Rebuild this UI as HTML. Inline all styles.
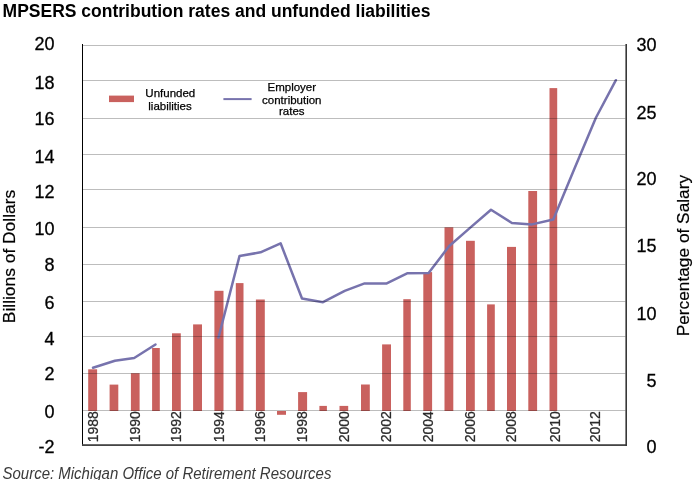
<!DOCTYPE html><html><head><meta charset="utf-8"><style>html,body{margin:0;padding:0;background:#fff;width:698px;height:480px;overflow:hidden}svg{display:block;will-change:transform}text{font-family:"Liberation Sans",sans-serif}</style></head><body>
<svg width="698" height="480" viewBox="0 0 698 480">
<text x="2.6" y="16.8" font-size="17.5" font-weight="bold" fill="#000">MPSERS contribution rates and unfunded liabilities</text>
<rect x="88.2" y="369.3" width="8.90" height="41.70" fill="#c9615e"/>
<rect x="109.6" y="384.6" width="8.70" height="26.40" fill="#c9615e"/>
<rect x="130.9" y="373.2" width="8.70" height="37.80" fill="#c9615e"/>
<rect x="152.1" y="348.0" width="7.70" height="63.00" fill="#c9615e"/>
<rect x="172.0" y="333.3" width="8.80" height="77.70" fill="#c9615e"/>
<rect x="193.1" y="324.4" width="8.90" height="86.60" fill="#c9615e"/>
<rect x="214.4" y="290.8" width="9.10" height="120.20" fill="#c9615e"/>
<rect x="235.8" y="283.1" width="7.70" height="127.90" fill="#c9615e"/>
<rect x="255.9" y="299.5" width="8.90" height="111.50" fill="#c9615e"/>
<rect x="277.0" y="411.0" width="9.00" height="3.8" fill="#c9615e"/>
<rect x="298.1" y="392.1" width="9.00" height="18.90" fill="#c9615e"/>
<rect x="319.4" y="405.9" width="7.50" height="5.10" fill="#c9615e"/>
<rect x="339.5" y="405.9" width="8.70" height="5.10" fill="#c9615e"/>
<rect x="361.0" y="384.5" width="8.80" height="26.50" fill="#c9615e"/>
<rect x="382.1" y="344.4" width="8.90" height="66.60" fill="#c9615e"/>
<rect x="403.3" y="299.2" width="7.50" height="111.80" fill="#c9615e"/>
<rect x="423.3" y="272.1" width="8.80" height="138.90" fill="#c9615e"/>
<rect x="444.5" y="227.3" width="8.80" height="183.70" fill="#c9615e"/>
<rect x="466.0" y="240.8" width="8.80" height="170.20" fill="#c9615e"/>
<rect x="487.1" y="304.4" width="7.70" height="106.60" fill="#c9615e"/>
<rect x="507.0" y="246.9" width="9.00" height="164.10" fill="#c9615e"/>
<rect x="528.3" y="191.0" width="8.80" height="220.00" fill="#c9615e"/>
<rect x="549.5" y="88.1" width="7.70" height="322.90" fill="#c9615e"/>
<rect x="82" y="44" width="1" height="402" fill="#000"/>
<rect x="82" y="444.2" width="545" height="1.8" fill="#454545"/>
<rect x="625.4" y="44" width="1.6" height="402" fill="#383838"/>
<polyline points="93,367.7 114.9,360.8 134.2,358 155.5,344.5" fill="none" stroke="#7773ad" stroke-width="2.5" stroke-linejoin="round" stroke-linecap="round"/>
<polyline points="218.5,337.5 239.5,256.1 260.5,252.3 280.6,243.3 302,298.5 323,302.2 344.7,290.8 364.6,283.4 386.25,283.6 407.1,273.3 428.6,273 449,246.3 470,227.9 491,209.7 511.9,223 532,224.4 553.3,219.5 574.6,168.2 595.9,117.75 615.9,80.2" fill="none" stroke="#7773ad" stroke-width="2.5" stroke-linejoin="round" stroke-linecap="round"/>
<rect x="83" y="45" width="542.4" height="1" fill="#bdbdbd" style="mix-blend-mode:multiply"/>
<rect x="83" y="80" width="542.4" height="1" fill="#bdbdbd" style="mix-blend-mode:multiply"/>
<rect x="83" y="118" width="542.4" height="1" fill="#bdbdbd" style="mix-blend-mode:multiply"/>
<rect x="83" y="154" width="542.4" height="1" fill="#bdbdbd" style="mix-blend-mode:multiply"/>
<rect x="83" y="189" width="542.4" height="1" fill="#bdbdbd" style="mix-blend-mode:multiply"/>
<rect x="83" y="227" width="542.4" height="1" fill="#bdbdbd" style="mix-blend-mode:multiply"/>
<rect x="83" y="264" width="542.4" height="1" fill="#bdbdbd" style="mix-blend-mode:multiply"/>
<rect x="83" y="301" width="542.4" height="1" fill="#bdbdbd" style="mix-blend-mode:multiply"/>
<rect x="83" y="336" width="542.4" height="1" fill="#bdbdbd" style="mix-blend-mode:multiply"/>
<rect x="83" y="373" width="542.4" height="1" fill="#bdbdbd" style="mix-blend-mode:multiply"/>
<rect x="83" y="410" width="542.4" height="1" fill="#bdbdbd" style="mix-blend-mode:multiply"/>
<text x="54.6" y="49.8" font-size="18" text-anchor="end" fill="#000" stroke="#000" stroke-width="0.3">20</text>
<text x="54.6" y="89" font-size="18" text-anchor="end" fill="#000" stroke="#000" stroke-width="0.3">18</text>
<text x="54.6" y="125" font-size="18" text-anchor="end" fill="#000" stroke="#000" stroke-width="0.3">16</text>
<text x="54.6" y="163.1" font-size="18" text-anchor="end" fill="#000" stroke="#000" stroke-width="0.3">14</text>
<text x="54.6" y="198.1" font-size="18" text-anchor="end" fill="#000" stroke="#000" stroke-width="0.3">12</text>
<text x="54.6" y="235.25" font-size="18" text-anchor="end" fill="#000" stroke="#000" stroke-width="0.3">10</text>
<text x="54.6" y="270.9" font-size="18" text-anchor="end" fill="#000" stroke="#000" stroke-width="0.3">8</text>
<text x="54.6" y="308.75" font-size="18" text-anchor="end" fill="#000" stroke="#000" stroke-width="0.3">6</text>
<text x="54.6" y="345" font-size="18" text-anchor="end" fill="#000" stroke="#000" stroke-width="0.3">4</text>
<text x="54.6" y="380" font-size="18" text-anchor="end" fill="#000" stroke="#000" stroke-width="0.3">2</text>
<text x="54.6" y="417.6" font-size="18" text-anchor="end" fill="#000" stroke="#000" stroke-width="0.3">0</text>
<text x="54.6" y="453" font-size="18" text-anchor="end" fill="#000" stroke="#000" stroke-width="0.3">-2</text>
<text x="656.5" y="50.6" font-size="18" text-anchor="end" fill="#000" stroke="#000" stroke-width="0.3">30</text>
<text x="656.5" y="119" font-size="18" text-anchor="end" fill="#000" stroke="#000" stroke-width="0.3">25</text>
<text x="656.5" y="185" font-size="18" text-anchor="end" fill="#000" stroke="#000" stroke-width="0.3">20</text>
<text x="656.5" y="252.1" font-size="18" text-anchor="end" fill="#000" stroke="#000" stroke-width="0.3">15</text>
<text x="656.5" y="320" font-size="18" text-anchor="end" fill="#000" stroke="#000" stroke-width="0.3">10</text>
<text x="656.5" y="387.25" font-size="18" text-anchor="end" fill="#000" stroke="#000" stroke-width="0.3">5</text>
<text x="656.5" y="453.1" font-size="18" text-anchor="end" fill="#000" stroke="#000" stroke-width="0.3">0</text>
<text transform="translate(98.2,411.1) rotate(-90)" x="0" y="0" font-size="14" text-anchor="end" fill="#2a2a2a" stroke="#2a2a2a" stroke-width="0.25">1988</text>
<text transform="translate(140.10000000000002,411.1) rotate(-90)" x="0" y="0" font-size="14" text-anchor="end" fill="#2a2a2a" stroke="#2a2a2a" stroke-width="0.25">1990</text>
<text transform="translate(181.20000000000002,411.1) rotate(-90)" x="0" y="0" font-size="14" text-anchor="end" fill="#2a2a2a" stroke="#2a2a2a" stroke-width="0.25">1992</text>
<text transform="translate(223.8,411.1) rotate(-90)" x="0" y="0" font-size="14" text-anchor="end" fill="#2a2a2a" stroke="#2a2a2a" stroke-width="0.25">1994</text>
<text transform="translate(265.1,411.1) rotate(-90)" x="0" y="0" font-size="14" text-anchor="end" fill="#2a2a2a" stroke="#2a2a2a" stroke-width="0.25">1996</text>
<text transform="translate(307.40000000000003,411.1) rotate(-90)" x="0" y="0" font-size="14" text-anchor="end" fill="#2a2a2a" stroke="#2a2a2a" stroke-width="0.25">1998</text>
<text transform="translate(348.7,411.1) rotate(-90)" x="0" y="0" font-size="14" text-anchor="end" fill="#2a2a2a" stroke="#2a2a2a" stroke-width="0.25">2000</text>
<text transform="translate(391.3,411.1) rotate(-90)" x="0" y="0" font-size="14" text-anchor="end" fill="#2a2a2a" stroke="#2a2a2a" stroke-width="0.25">2002</text>
<text transform="translate(432.5,411.1) rotate(-90)" x="0" y="0" font-size="14" text-anchor="end" fill="#2a2a2a" stroke="#2a2a2a" stroke-width="0.25">2004</text>
<text transform="translate(475.1,411.1) rotate(-90)" x="0" y="0" font-size="14" text-anchor="end" fill="#2a2a2a" stroke="#2a2a2a" stroke-width="0.25">2006</text>
<text transform="translate(516.3,411.1) rotate(-90)" x="0" y="0" font-size="14" text-anchor="end" fill="#2a2a2a" stroke="#2a2a2a" stroke-width="0.25">2008</text>
<text transform="translate(559.5999999999999,411.1) rotate(-90)" x="0" y="0" font-size="14" text-anchor="end" fill="#2a2a2a" stroke="#2a2a2a" stroke-width="0.25">2010</text>
<text transform="translate(600.0999999999999,411.1) rotate(-90)" x="0" y="0" font-size="14" text-anchor="end" fill="#2a2a2a" stroke="#2a2a2a" stroke-width="0.25">2012</text>
<text transform="translate(15,323.2) rotate(-90)" font-size="17.4" fill="#000" stroke="#000" stroke-width="0.2">Billions of Dollars</text>
<text transform="translate(688.8,336.3) rotate(-90)" font-size="17.3" fill="#000" stroke="#000" stroke-width="0.2">Percentage of Salary</text>
<rect x="109" y="95.6" width="25" height="6.5" fill="#c9615e"/>
<text x="170.3" y="97.05" font-size="11.5" text-anchor="middle" fill="#000" stroke="#000" stroke-width="0.25">Unfunded</text>
<text x="170" y="109.5" font-size="11.5" text-anchor="middle" fill="#000" stroke="#000" stroke-width="0.25">liabilities</text>
<rect x="223.4" y="98.1" width="28.2" height="2" fill="#7773ad"/>
<text x="291.8" y="90.75" font-size="11.5" text-anchor="middle" fill="#000" stroke="#000" stroke-width="0.25">Employer</text>
<text x="291.8" y="103.7" font-size="11.5" text-anchor="middle" fill="#000" stroke="#000" stroke-width="0.25">contribution</text>
<text x="291.8" y="114.8" font-size="11.5" text-anchor="middle" fill="#000" stroke="#000" stroke-width="0.25">rates</text>
<text transform="translate(2.5,479.1) scale(1,1.1)" font-size="15" font-style="italic" fill="#3a3a3a">Source: Michigan Office of Retirement Resources</text>
</svg></body></html>
